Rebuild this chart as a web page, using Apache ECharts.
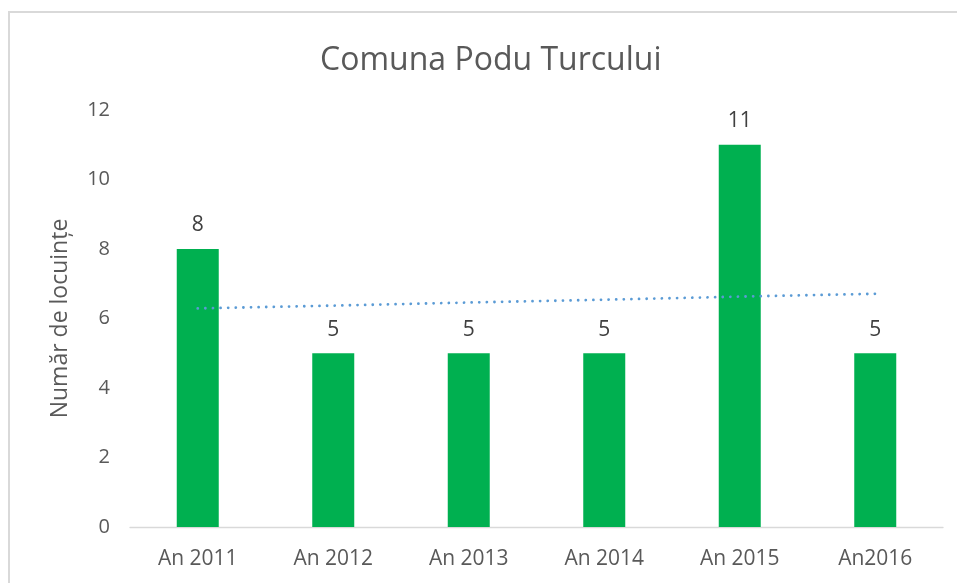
<!DOCTYPE html>
<html><head><meta charset="utf-8">
<script src="https://cdn.jsdelivr.net/npm/echarts@6/dist/echarts.min.js"></script>
<style>html,body{margin:0;padding:0;background:#fff}#c{width:957px;height:583px}</style>
</head><body><div id="c"></div>
<script>
const categories = ['An 2011','An 2012','An 2013','An 2014','An 2015','An2016'];
const values = [8,5,5,5,11,5];
const trend = [6.29,6.37,6.46,6.54,6.63,6.71];
const yTicks = [0,2,4,6,8,10,12];

const chart = echarts.init(document.getElementById('c'));
const font = '"Open Sans", "Noto Sans", sans-serif';
chart.setOption({
  backgroundColor:'#fff',
  animation:false,
  graphic:[{type:'rect',shape:{x:9,y:12,width:980,height:620},style:{fill:'none',stroke:'#d9d9d9',lineWidth:2},silent:true}],
  title:{text:'Comuna Podu Turcului',left:315,top:40,textStyle:{fontFamily:font,fontSize:32,fontWeight:'normal',color:'#595959'}},
  grid:{left:130,right:14,top:110,bottom:56},
  xAxis:{type:'category',data:categories,
    axisLine:{lineStyle:{color:'#d9d9d9',width:1.3}},axisTick:{show:false},
    axisLabel:{fontFamily:font,fontSize:21,color:'#595959',margin:22}},
  yAxis:{type:'value',min:yTicks[0],max:yTicks[yTicks.length-1],interval:2,
    name:'Număr de locuințe',nameLocation:'middle',nameGap:58,
    nameTextStyle:{fontFamily:font,fontSize:23,color:'#595959'},
    axisLine:{show:false},axisTick:{show:false},splitLine:{show:false},
    axisLabel:{fontFamily:font,fontSize:20,color:'#595959',margin:20}},
  series:[
    {type:'bar',data:values,barWidth:42,itemStyle:{color:'#00b050'},
     label:{show:true,position:'top',distance:13,fontFamily:font,fontSize:21,color:'#404040'}},
    {type:'line',data:trend,symbol:'none',z:5,
     lineStyle:{color:'#5b9bd5',width:2.8,type:[0.01,7.6],cap:'round'}}
  ]
});
</script></body></html>
